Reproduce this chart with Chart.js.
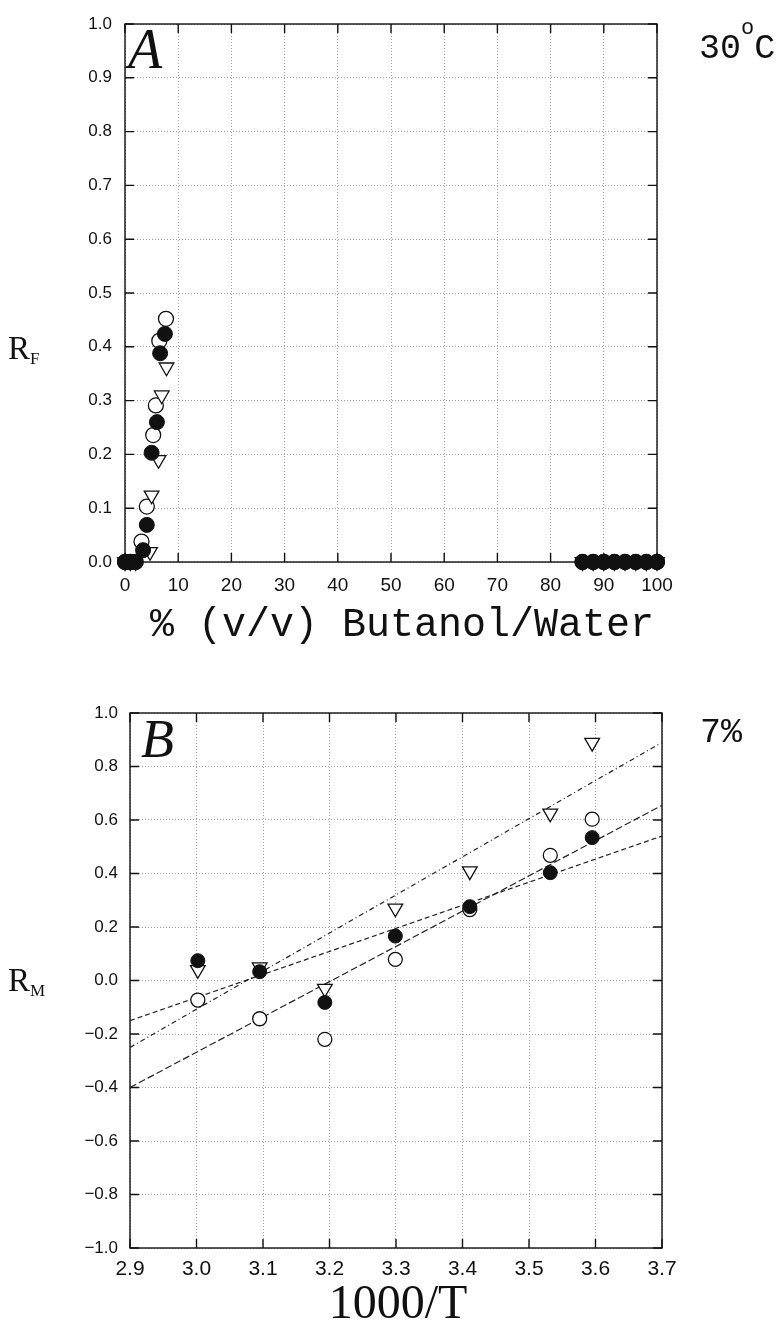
<!DOCTYPE html>
<html lang="en">
<head>
  <meta charset="UTF-8">
  <title>RF and RM plots</title>
  <script src="https://cdn.jsdelivr.net/npm/chart.js"></script>
  <style>
    html,body{margin:0;background:#fff;}
    canvas{position:absolute;left:0;}
    #chartA{top:0;}
    #chartB{top:660px;}
  </style>
</head>
<body>
  <canvas id="chartA" width="781" height="660"></canvas>
  <canvas id="chartB" width="781" height="665"></canvas>

  <script>
    /* ——— PANEL A : RF vs % butanol (30 °C) ——— */
    const pctFilled = [0, 1, 2, 3.4, 4.1, 5.0, 6.0, 6.6, 7.5, 86, 88, 90, 92, 94, 96, 98, 100];
    const rfFilled  = [0, 0, 0, 0.022, 0.069, 0.203, 0.26, 0.388, 0.424, 0, 0, 0, 0, 0, 0, 0, 0];
    const pctOpen   = [0, 1, 2, 3.1, 4.1, 5.3, 5.8, 6.45, 7.7, 86, 88, 90, 92, 94, 96, 98, 100];
    const rfOpen    = [0, 0, 0, 0.038, 0.103, 0.236, 0.291, 0.411, 0.452, 0, 0, 0, 0, 0, 0, 0, 0];
    const pctTri    = [0, 1, 2, 4.7, 5.0, 6.3, 6.9, 7.8, 86, 88, 90, 92, 94, 96, 98, 100];
    const rfTri     = [0, 0, 0, 0.019, 0.124, 0.19, 0.31, 0.362, 0, 0, 0, 0, 0, 0, 0, 0];
    const pctAxis = [0, 100, 10];   // min, max, step
    const rfAxis  = [0, 1, 0.1];

    /* ——— PANEL B : RM vs 1000/T (7 %) ——— */
    const invT     = [3.002, 3.095, 3.193, 3.299, 3.411, 3.532, 3.595];
    const rmFilled = [0.074, 0.033, -0.082, 0.166, 0.276, 0.403, 0.534];
    const rmOpen   = [-0.073, -0.143, -0.22, 0.079, 0.265, 0.468, 0.603];
    const rmTri    = [0.04, 0.05, -0.03, 0.27, 0.409, 0.625, 0.889];
    const fitX      = [2.9, 3.7];
    const fitFilled = [-0.15, 0.54];
    const fitOpen   = [-0.40, 0.655];
    const fitTri    = [-0.25, 0.89];
    const invTAxis = [2.9, 3.7, 0.1];
    const rmAxis   = [-1, 1, 0.2];

    const serif  = "'Liberation Serif','DejaVu Serif',serif";
    const mono   = "'Liberation Mono','DejaVu Sans Mono',monospace";
    const narrow = "'Liberation Sans Narrow','Liberation Sans',sans-serif";
    const INK = '#111';

    const pts = (xs, ys) => xs.map((x, i) => ({x, y: ys[i]}));
    const fmt = v => { const s = Number(v).toFixed(1); return s.startsWith('-') ? '\u2212' + s.slice(1) : s; };

    function filled(data, r){ return {data, pointStyle:'circle', pointRadius:r, backgroundColor:INK, borderColor:INK, borderWidth:1, order:1, clip:false}; }
    function open(data, r){ return {data, pointStyle:'circle', pointRadius:r, backgroundColor:'#fff', borderColor:INK, borderWidth:1.3, order:3, clip:false}; }
    function tri(data, r){ return {data, pointStyle:'triangle', rotation:180, pointRadius:r, backgroundColor:'#fff', borderColor:INK, borderWidth:1.3, order:2, clip:false}; }
    function fit(data, dash){ return {data, showLine:true, pointRadius:0, borderColor:'#222', borderWidth:1.2, borderDash:dash, order:4}; }

    /* frame, inward ticks and free text */
    const decor = {
      id:'decor',
      beforeDatasetsDraw(chart, args, o){
        const {ctx, chartArea:a, scales:{x, y}} = chart;
        ctx.save();
        ctx.strokeStyle = INK;
        ctx.lineWidth = 1.4;
        ctx.strokeRect(a.left, a.top, a.right - a.left, a.bottom - a.top);
        ctx.beginPath();
        x.ticks.forEach(t => {
          const px = x.getPixelForValue(t.value);
          ctx.moveTo(px, a.bottom); ctx.lineTo(px, a.bottom - o.tick);
          ctx.moveTo(px, a.top);    ctx.lineTo(px, a.top + o.tick);
        });
        y.ticks.forEach(t => {
          const py = y.getPixelForValue(t.value);
          ctx.moveTo(a.left, py);  ctx.lineTo(a.left + o.tick, py);
          ctx.moveTo(a.right, py); ctx.lineTo(a.right - o.tick, py);
        });
        ctx.stroke();
        ctx.restore();
      },
      afterDraw(chart, args, o){
        const ctx = chart.ctx;
        ctx.save();
        ctx.fillStyle = INK;
        ctx.textBaseline = 'alphabetic';
        ctx.textAlign = 'left';
        o.texts.forEach(t => {
          let w = 0;
          t.runs.forEach(r => { ctx.font = r.font; w += ctx.measureText(r.s).width; });
          let cx = t.center ? t.x - w / 2 : t.x;
          t.runs.forEach(r => {
            ctx.font = r.font;
            ctx.fillText(r.s, cx, t.y + (r.dy || 0));
            cx += ctx.measureText(r.s).width;
          });
        });
        ctx.restore();
      }
    };

    function axis(range, width, height, pad, size){
      return {
        type:'linear', min:range[0], max:range[1],
        ticks:{stepSize:range[2], padding:pad, color:INK, font:{family:narrow, size}, callback:fmt},
        grid:{color:'#8a8a8a', lineWidth:0.8, drawTicks:false},
        border:{display:false, dash:[1,2]},
        afterFit(s){ if (width) s.width = width; if (height) s.height = height; }
      };
    }

    /* ——— CHART A ——— */
    const axA = axis(pctAxis, 0, 98, 12, 19);
    axA.ticks.callback = v => String(v);
    new Chart(document.getElementById('chartA'), {
      type:'scatter',
      data:{datasets:[
        filled(pts(pctFilled, rfFilled), 7.5),
        tri(pts(pctTri, rfTri), 8.5),
        open(pts(pctOpen, rfOpen), 7.5)
      ]},
      options:{
        responsive:false, animation:false,
        layout:{padding:{top:24, right:124, left:0, bottom:0}},
        scales:{x:axA, y:axis(rfAxis, 125, 0, 13, 17)},
        plugins:{
          legend:{display:false}, tooltip:{enabled:false},
          decor:{tick:9, texts:[
            {x:128, y:68, runs:[{s:'A', font:`italic 56px ${serif}`}]},
            {x:699, y:58, runs:[{s:'30', font:`35px ${mono}`}, {s:'o', font:`22px ${mono}`, dy:-24}, {s:'C', font:`35px ${mono}`}]},
            {x:8, y:359, runs:[{s:'R', font:`33px ${serif}`}, {s:'F', font:`17px ${serif}`, dy:5}]},
            {x:150, y:636, runs:[{s:'% (v/v) Butanol/Water', font:`40px ${mono}`}]}
          ]}
        }
      },
      plugins:[decor]
    });

    /* ——— CHART B ——— */
    new Chart(document.getElementById('chartB'), {
      type:'scatter',
      data:{datasets:[
        filled(pts(invT, rmFilled), 7),
        tri(pts(invT, rmTri), 8.5),
        open(pts(invT, rmOpen), 7),
        fit(pts(fitX, fitFilled), [5, 3]),
        fit(pts(fitX, fitOpen), [7, 3]),
        fit(pts(fitX, fitTri), [5, 3, 1, 3])
      ]},
      options:{
        responsive:false, animation:false,
        layout:{padding:{top:53, right:119, left:0, bottom:0}},
        scales:{x:axis(invTAxis, 0, 77, 9, 21), y:axis(rmAxis, 130, 0, 12, 17)},
        plugins:{
          legend:{display:false}, tooltip:{enabled:false},
          decor:{tick:9, texts:[
            {x:141, y:97, runs:[{s:'B', font:`italic 54px ${serif}`}]},
            {x:700, y:82, runs:[{s:'7%', font:`35px ${mono}`}]},
            {x:8, y:331, runs:[{s:'R', font:`33px ${serif}`}, {s:'M', font:`17px ${serif}`, dy:5}]},
            {x:398, y:658, center:true, runs:[{s:'1000/T', font:`48px ${serif}`}]}
          ]}
        }
      },
      plugins:[decor]
    });
  </script>
</body>
</html>
